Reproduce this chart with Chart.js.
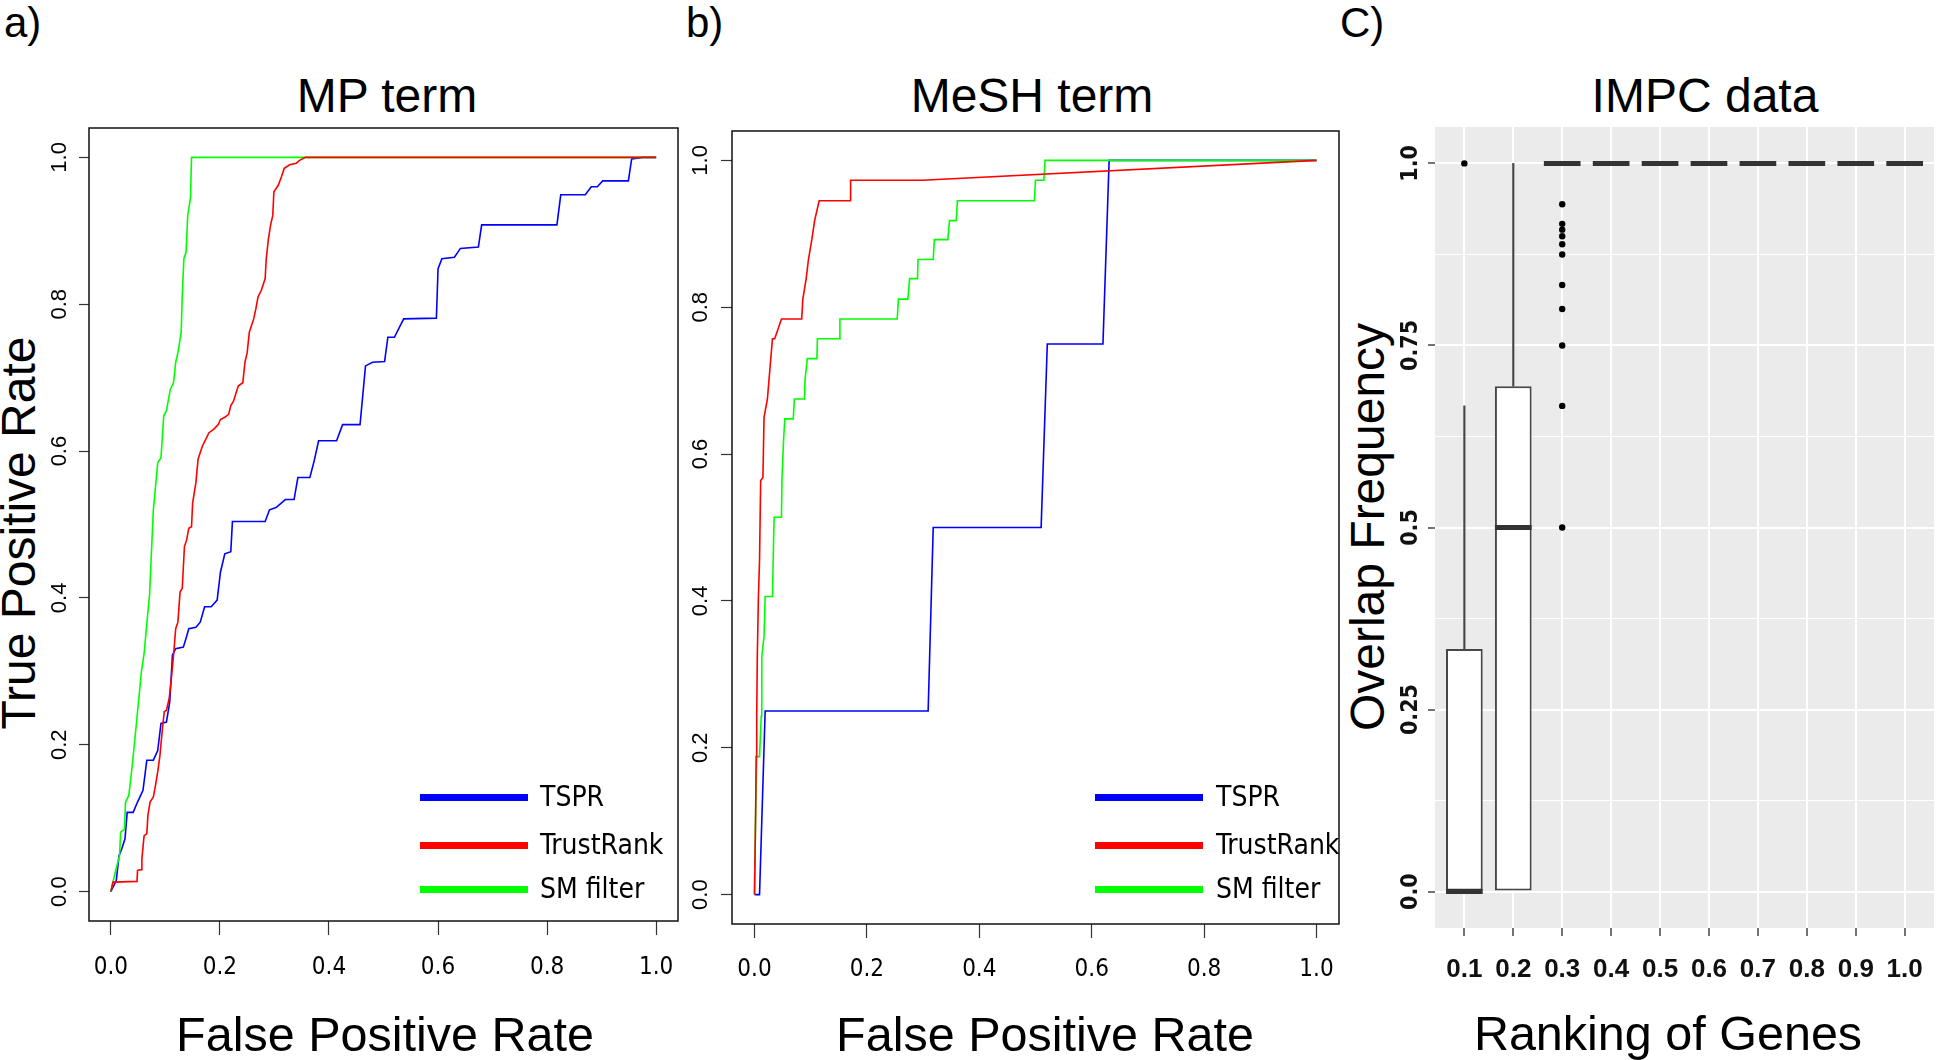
<!DOCTYPE html>
<html>
<head>
<meta charset="utf-8">
<script src="https://cdn.jsdelivr.net/npm/chart.js@4.4.1/dist/chart.umd.min.js"></script>
<style>
  body { margin:0; width:1944px; height:1060px; background:#fff; position:relative; overflow:hidden;
         font-family:"Liberation Sans", Arial, sans-serif; color:#000; }
  canvas { position:absolute; }
  .txt { position:absolute; white-space:nowrap; line-height:1; }
  .ctr { width:1000px; text-align:center; }
  .rot { width:500px; text-align:center; transform:rotate(-90deg); transform-origin:center center; }
  .leg { font-family:"Liberation Sans Narrow","DejaVu Sans Condensed","Arial Narrow",sans-serif; font-size:28px; }
</style>
</head>
<body>
<div class="txt" style="left:4px;top:2px;font-size:42px">a)</div>
<div class="txt" style="left:686px;top:2px;font-size:42px">b)</div>
<div class="txt" style="left:1340px;top:2px;font-size:42px">C)</div>

<div class="txt ctr" style="left:-113px;top:72px;font-size:48px">MP term</div>
<div class="txt ctr" style="left:532px;top:72px;font-size:48px">MeSH term</div>
<div class="txt ctr" style="left:1205px;top:72px;font-size:48px">IMPC data</div>

<div class="txt ctr" style="left:-115px;top:1010px;font-size:48.5px">False Positive Rate</div>
<div class="txt ctr" style="left:545px;top:1010px;font-size:48.5px">False Positive Rate</div>
<div class="txt ctr" style="left:1168px;top:1009px;font-size:48.5px">Ranking of Genes</div>

<div class="txt rot" style="left:-231px;top:509px;font-size:48px">True Positive Rate</div>
<div class="txt rot" style="left:1118px;top:503px;font-size:48px">Overlap Frequency</div>

<canvas id="rocA" width="700" height="1000" style="left:0;top:60px"></canvas>
<canvas id="rocB" width="670" height="1000" style="left:690px;top:60px"></canvas>
<canvas id="boxC" width="604" height="960" style="left:1340px;top:100px"></canvas>

<script>
// ---- data ----
const seriesNames = ['TSPR', 'TrustRank', 'SM filter'];
const seriesColors = ['#0000ff', '#ff0000', '#00ff00'];
const drawOrder = [2, 0, 1]; // red on top, then green, blue underneath
const rateTicks = [0, 0.2, 0.4, 0.6, 0.8, 1.0];

// a) MP term  [FPR, TPR]
const mpTspr = [[0,0],[0.010,0.015],[0.015,0.049],[0.020,0.058],[0.026,0.072],[0.030,0.108],[0.041,0.108],[0.049,0.122],
  [0.059,0.138],[0.066,0.179],[0.078,0.179],[0.086,0.192],[0.092,0.229],[0.102,0.231],[0.108,0.258],[0.113,0.322],
  [0.119,0.331],[0.133,0.333],[0.138,0.345],[0.143,0.358],[0.156,0.360],[0.164,0.367],[0.172,0.388],[0.184,0.388],
  [0.195,0.397],[0.201,0.435],[0.209,0.460],[0.220,0.463],[0.223,0.504],[0.283,0.504],[0.291,0.520],[0.303,0.523],
  [0.320,0.534],[0.336,0.534],[0.343,0.564],[0.365,0.564],[0.373,0.587],[0.381,0.614],[0.414,0.614],[0.425,0.636],
  [0.457,0.636],[0.467,0.716],[0.480,0.721],[0.502,0.722],[0.508,0.755],[0.520,0.755],[0.537,0.780],[0.597,0.781],
  [0.600,0.848],[0.607,0.862],[0.630,0.864],[0.641,0.876],[0.674,0.878],[0.680,0.908],[0.818,0.908],[0.825,0.949],
  [0.870,0.949],[0.881,0.960],[0.892,0.960],[0.902,0.968],[0.949,0.968],[0.955,0.998],[0.975,1],[1,1]];
const mpTrust = [[0,0],[0.004,0.013],[0.048,0.014],[0.049,0.029],[0.056,0.030],[0.057,0.045],[0.061,0.076],[0.066,0.079],
  [0.068,0.104],[0.072,0.122],[0.078,0.129],[0.082,0.145],[0.086,0.163],[0.090,0.185],[0.094,0.217],[0.098,0.245],
  [0.102,0.247],[0.107,0.263],[0.111,0.290],[0.115,0.322],[0.119,0.358],[0.123,0.367],[0.127,0.408],[0.131,0.413],
  [0.135,0.470],[0.139,0.479],[0.143,0.495],[0.148,0.497],[0.150,0.529],[0.156,0.557],[0.160,0.589],[0.164,0.598],
  [0.168,0.607],[0.174,0.616],[0.180,0.625],[0.189,0.630],[0.197,0.636],[0.201,0.643],[0.209,0.646],[0.216,0.650],
  [0.220,0.662],[0.225,0.668],[0.230,0.680],[0.234,0.689],[0.242,0.693],[0.246,0.721],[0.250,0.734],[0.254,0.762],
  [0.258,0.771],[0.262,0.780],[0.266,0.794],[0.270,0.810],[0.276,0.819],[0.283,0.835],[0.285,0.862],[0.289,0.889],
  [0.293,0.908],[0.297,0.921],[0.299,0.953],[0.307,0.962],[0.313,0.974],[0.318,0.985],[0.328,0.990],[0.340,0.992],
  [0.346,0.996],[0.357,1],[1,1]];
const mpSm = [[0,0],[0.008,0.026],[0.016,0.049],[0.018,0.081],[0.025,0.085],[0.027,0.122],[0.033,0.131],[0.038,0.163],
  [0.043,0.199],[0.049,0.245],[0.056,0.299],[0.061,0.324],[0.068,0.381],[0.071,0.404],[0.074,0.454],[0.078,0.520],
  [0.086,0.584],[0.092,0.591],[0.097,0.648],[0.102,0.655],[0.109,0.684],[0.115,0.693],[0.119,0.721],[0.123,0.734],
  [0.129,0.762],[0.131,0.812],[0.134,0.862],[0.138,0.871],[0.141,0.921],[0.146,0.944],[0.148,1],[1,1]];

// b) MeSH term  [FPR, TPR]
const meshTspr = [[0,0],[0.009,0],[0.019,0.25],[0.309,0.25],[0.318,0.5],[0.510,0.5],[0.521,0.75],[0.620,0.75],[0.631,1],[1,1]];
const meshTrust = [[0,0],[0.002,0.106],[0.003,0.188],[0.004,0.243],[0.005,0.324],[0.007,0.406],[0.009,0.455],[0.011,0.564],
  [0.015,0.568],[0.017,0.650],[0.023,0.675],[0.029,0.730],[0.032,0.757],[0.036,0.757],[0.048,0.784],[0.084,0.784],
  [0.086,0.811],[0.092,0.839],[0.096,0.865],[0.102,0.892],[0.107,0.918],[0.115,0.945],[0.170,0.945],[0.171,0.973],
  [0.299,0.973],[1,1]];
const meshSm = [[0,0],[0.002,0.111],[0.004,0.188],[0.009,0.188],[0.012,0.243],[0.013,0.324],[0.017,0.352],[0.019,0.406],
  [0.032,0.406],[0.034,0.483],[0.035,0.514],[0.048,0.514],[0.049,0.568],[0.052,0.623],[0.054,0.648],[0.069,0.648],
  [0.071,0.675],[0.089,0.675],[0.090,0.702],[0.094,0.730],[0.111,0.730],[0.112,0.757],[0.151,0.757],[0.152,0.784],
  [0.254,0.784],[0.256,0.811],[0.273,0.811],[0.276,0.839],[0.290,0.839],[0.291,0.865],[0.318,0.865],[0.320,0.892],
  [0.344,0.892],[0.347,0.918],[0.359,0.918],[0.361,0.945],[0.498,0.945],[0.500,0.973],[0.515,0.973],[0.517,1],[1,1]];

// c) IMPC data boxplots
const rankings = [0.1, 0.2, 0.3, 0.4, 0.5, 0.6, 0.7, 0.8, 0.9, 1.0];
const boxQ1 = [0, 0, 1, 1, 1, 1, 1, 1, 1, 1];
const boxMedian = [0, 0.5, 1, 1, 1, 1, 1, 1, 1, 1];
const boxQ3 = [0.333, 0.694, 1, 1, 1, 1, 1, 1, 1, 1];
const whiskerTop = [0.667, 1, 1, 1, 1, 1, 1, 1, 1, 1];
const outlierRank = [0.1, 0.3, 0.3, 0.3, 0.3, 0.3, 0.3, 0.3, 0.3, 0.3, 0.3, 0.3];
const outlierValue = [1.0, 0.5, 0.667, 0.75, 0.8, 0.833, 0.875, 0.889, 0.9, 0.909, 0.917, 0.944];
const overlapTicks = [0, 0.25, 0.5, 0.75, 1.0];
const overlapTickLabels = ['0.0', '0.25', '0.5', '0.75', '1.0'];

// ---- drawing ----
const regular = '"Liberation Sans", Arial, sans-serif';
const narrow = '"Liberation Sans Narrow", "DejaVu Sans Condensed", "Arial Narrow", sans-serif';

const frame = {
  id: 'frame',
  afterDatasetsDraw(chart) {
    const a = chart.chartArea, c = chart.ctx;
    c.save();
    c.strokeStyle = '#111';
    c.lineWidth = 1.5;
    c.strokeRect(a.left, a.top, a.right - a.left, a.bottom - a.top);
    c.restore();
  }
};

function rocChart(id, curves, pad, yAxisW, xAxisH, yLabelPad, xLabelPad, yTickLen) {
  new Chart(document.getElementById(id), {
    type: 'line',
    data: {
      datasets: curves.map((c, i) => ({
        label: seriesNames[i],
        data: c.map(p => ({ x: p[0], y: p[1] })),
        borderColor: seriesColors[i],
        borderWidth: 1.6,
        pointRadius: 0,
        tension: 0,
        order: drawOrder[i]
      }))
    },
    options: {
      responsive: false, animation: false, events: [],
      layout: { padding: pad },
      plugins: { legend: { display: false }, tooltip: { enabled: false } },
      scales: {
        x: {
          type: 'linear', min: -0.04, max: 1.04,
          afterFit: s => { s.height = xAxisH; },
          ticks: { stepSize: 0.2, includeBounds: false, maxRotation: 0, padding: xLabelPad, color: '#000',
                   callback: v => rateTicks.includes(v) ? v.toFixed(1) : '',
                   font: { family: narrow, size: 24, lineHeight: 1 } },
          grid: { drawOnChartArea: false, tickLength: 14, tickColor: '#333', tickWidth: 1.2 },
          border: { display: false }
        },
        y: {
          type: 'linear', min: -0.04, max: 1.04,
          afterFit: s => { s.width = yAxisW; },
          ticks: { stepSize: 0.2, includeBounds: false, minRotation: 90, maxRotation: 90, crossAlign: 'center',
                   padding: yLabelPad, color: '#000',
                   callback: v => rateTicks.includes(v) ? v.toFixed(1) : '',
                   font: { family: regular, size: 22, lineHeight: 1 } },
          grid: { drawOnChartArea: false, tickLength: yTickLen, tickColor: '#333', tickWidth: 1.2 },
          border: { display: false }
        }
      }
    },
    plugins: [frame]
  });
}

rocChart('rocA', [mpTspr, mpTrust, mpSm], { left: 0, top: 68, right: 22, bottom: 0 }, 89, 139, 4, 21, 10);
rocChart('rocB', [meshTspr, meshTrust, meshSm], { left: 0, top: 71, right: 21, bottom: 0 }, 42, 136, 5, 20, 11);

function addLegend(lineLeft, textLeft, rowY) {
  seriesNames.forEach((name, i) => {
    const bar = document.createElement('div');
    bar.style.cssText = 'position:absolute;left:' + lineLeft + 'px;top:' + (rowY[i] - 3.5) + 'px;width:108px;height:7px;background:' + seriesColors[i];
    document.body.appendChild(bar);
    const t = document.createElement('div');
    t.className = 'txt leg';
    t.style.left = textLeft + 'px';
    t.style.top = (rowY[i] - 14) + 'px';
    t.textContent = name;
    document.body.appendChild(t);
  });
}
addLegend(420, 540, [797, 845, 889]);
addLegend(1095, 1216, [797, 845, 889]);

const panelBg = {
  id: 'panelBg',
  beforeDraw(chart) {
    const a = chart.chartArea, c = chart.ctx;
    c.save();
    c.fillStyle = '#ebebeb';
    c.fillRect(a.left, a.top, a.right - a.left, a.bottom - a.top);
    c.restore();
  }
};

const isMajor = v => overlapTicks.some(t => Math.abs(t - v) < 1e-6);
const halfBox = ctx => {
  const x = ctx.chart.scales.x;
  return Math.abs(x.getPixelForValue(rankings[1]) - x.getPixelForValue(rankings[0])) * 0.375;
};

new Chart(document.getElementById('boxC'), {
  type: 'bar',
  data: {
    datasets: [
      { type: 'scatter', data: outlierRank.map((r, i) => ({ x: r, y: outlierValue[i] })),
        pointRadius: 3.2, backgroundColor: '#000', borderWidth: 0, order: 0 },
      { type: 'scatter', data: rankings.map((r, i) => ({ x: r, y: boxMedian[i] })),
        pointStyle: 'line', pointRadius: halfBox, borderColor: '#333', borderWidth: 5, order: 1 },
      { type: 'bar', data: rankings.map((r, i) => ({ x: r, y: [boxQ1[i], boxQ3[i]] })),
        backgroundColor: '#fff', borderColor: '#474747', borderWidth: 2, borderSkipped: false,
        grouped: false, barPercentage: 0.75, categoryPercentage: 1, order: 2 },
      { type: 'bar', data: rankings.map((r, i) => ({ x: r, y: [boxQ3[i], whiskerTop[i]] })),
        backgroundColor: '#474747', barThickness: 1.5, grouped: false, order: 3 }
    ]
  },
  options: {
    responsive: false, animation: false, events: [],
    layout: { padding: { left: 0, top: 27, right: 1, bottom: 0 } },
    plugins: { legend: { display: false }, tooltip: { enabled: false } },
    scales: {
      x: {
        type: 'linear', min: 0.04, max: 1.06, offset: false,
        afterFit: s => { s.height = 132; },
        ticks: { stepSize: 0.1, includeBounds: false, autoSkip: false, maxRotation: 0, padding: 21, color: '#111',
                 callback: v => v.toFixed(1),
                 font: { family: regular, size: 26, weight: 'bold', lineHeight: 1 } },
        grid: { offset: false, color: '#fff', lineWidth: 2, tickColor: '#444', tickLength: 8, tickWidth: 1.5 },
        border: { display: false }
      },
      y: {
        type: 'linear', min: -0.05, max: 1.05,
        afterFit: s => { s.width = 95; },
        ticks: { stepSize: 0.125, includeBounds: false, minRotation: 90, maxRotation: 90, crossAlign: 'center',
                 padding: -9, color: '#111',
                 callback: v => { const k = overlapTicks.findIndex(t => Math.abs(t - v) < 1e-6); return k >= 0 ? overlapTickLabels[k] : ''; },
                 font: { family: narrow, size: 23, weight: 'bold', lineHeight: 1 } },
        grid: { color: '#fff', lineWidth: c => isMajor(c.tick.value) ? 2 : 1,
                tickColor: c => isMajor(c.tick.value) ? '#444' : 'rgba(0,0,0,0)', tickLength: 7, tickWidth: 1.5 },
        border: { display: false }
      }
    }
  },
  plugins: [panelBg]
});
</script>
</body>
</html>
